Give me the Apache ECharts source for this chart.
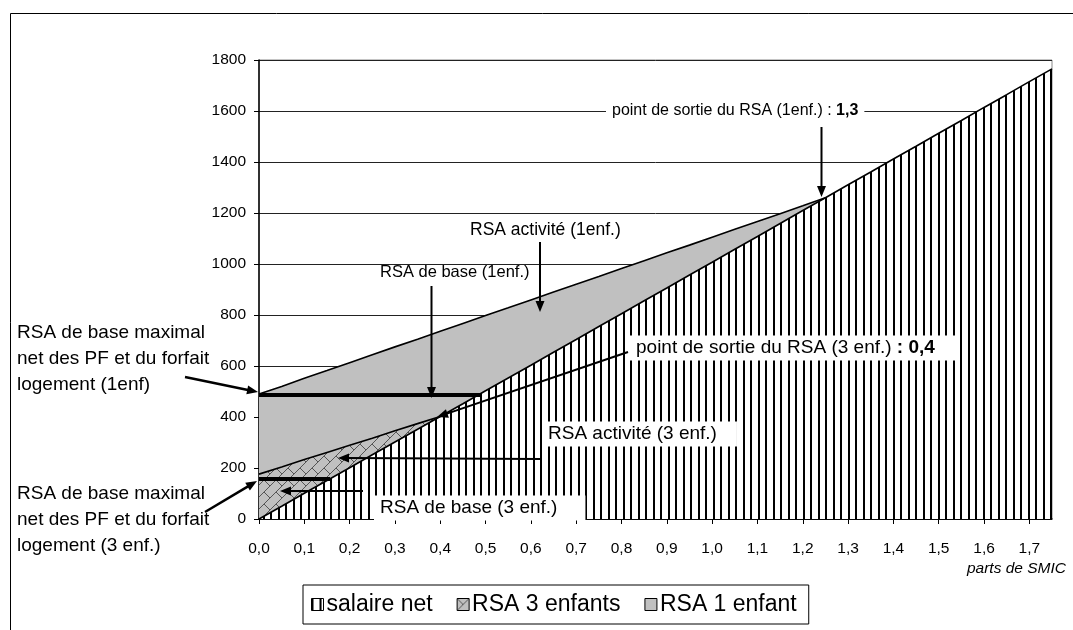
<!DOCTYPE html>
<html><head><meta charset="utf-8">
<script src="https://cdn.jsdelivr.net/npm/echarts@6/dist/echarts.min.js"></script>
<style>html,body{margin:0;padding:0;background:#fff}#c{width:1073px;height:630px}</style>
</head><body><div id="c"></div>
<script>
// ---- data ----
const parts = [0,0.05,0.1,0.15,0.2,0.25,0.3,0.35,0.4,0.45,0.5,0.55,0.6,0.65,0.7,0.75,0.8,0.85,0.9,0.95,1.0,1.05,1.1,1.15,1.2,1.25,1.3,1.35,1.4,1.45,1.5,1.55,1.6,1.65,1.7,1.75];
const salaireNet = [0,50,101,151,201,252,302,352,402,452,503,553,603,654,704,755,805,856,906,957,1007,1058,1108,1159,1210,1260,1311,1361,1412,1462,1513,1563,1614,1664,1715,1765];
const rsa3Enfants = [176,204,233,261,289,317,346,374,402];
const rsa1Enfant = [490,520,552,582,613,644,675,705,736,767,798,828,859,890,921,951,982,1013,1044,1074,1105,1136,1167,1197,1228,1260];
const seriesNames = ['salaire net','RSA 3 enfants','RSA 1 enfant'];
const xTickStep = 0.1, yTickStep = 200;

// ---- fill patterns ----
function stripePattern(){
  const c=document.createElement('canvas'); c.width=15; c.height=4;
  const g=c.getContext('2d'); g.fillStyle='#fff'; g.fillRect(0,0,15,4);
  g.fillStyle='#000'; g.fillRect(0,0,2,4); g.fillRect(8,0,2,4);
  return {image:c, repeat:'repeat'};
}
function crossPattern(){
  const s=12; const c=document.createElement('canvas'); c.width=s; c.height=s;
  const g=c.getContext('2d'); g.fillStyle='#c0c0c0'; g.fillRect(0,0,s,s);
  g.strokeStyle='#555'; g.lineWidth=1;
  g.beginPath(); g.moveTo(0,s); g.lineTo(s,0); g.stroke();
  g.beginPath(); g.moveTo(0,0); g.lineTo(s/2,s/2); g.stroke();
  return {image:c, repeat:'repeat'};
}
const stripes = stripePattern(), cross = crossPattern(), grey = '#c0c0c0';

function pairs(vals){ return vals.map((v,i)=>[parts[i], v]); }

const FONT = '"Liberation Sans", Arial, sans-serif';

function arrow(x1,y1,x2,y2,w){
  const dx=x2-x1, dy=y2-y1, len=Math.hypot(dx,dy), ux=dx/len, uy=dy/len;
  const L=11, W=4.5, nx=-uy, ny=ux;
  const bx=x2-L*ux, by=y2-L*uy;
  return [
    {type:'line', z:100, shape:{x1:x1,y1:y1,x2:bx+ux*2,y2:by+uy*2}, style:{stroke:'#000', lineWidth:w||2}},
    {type:'polygon', z:100, shape:{points:[[x2,y2],[bx+W*nx,by+W*ny],[bx-W*nx,by-W*ny]]}, style:{fill:'#000'}}
  ];
}
function bar(x1,y,x2,w){
  return {type:'line', z:100, shape:{x1:x1,y1:y,x2:x2,y2:y}, style:{stroke:'#000', lineWidth:w}};
}
function label(text,x,y,size,opts){
  return {type:'text', z:101, x:x, y:y, style:Object.assign({
    text:text, font:size+'px '+FONT, fill:'#000', verticalAlign:'middle',
    backgroundColor:'#fff', padding:[3,6,3,6],
    rich:{b:{font:'bold '+size+'px '+FONT, fill:'#000'}}
  }, opts||{})};
}
function plain(text,x,y){
  return {type:'text', z:101, x:x, y:y, style:{
    text:text, font:'19px '+FONT, fill:'#000', lineHeight:26
  }};
}

const chart = echarts.init(document.getElementById('c'), null, {renderer:'canvas'});
const graphics = [].concat(
  [{type:'rect', z:0, shape:{x:10.5,y:13.5,width:1200,height:800}, style:{fill:'none', stroke:'#000', lineWidth:1}}],
  bar(259,395,480,4),
  bar(259,479,330,4),
  arrow(821.5,127,821.5,197,2),
  arrow(540,242,540,312,2),
  arrow(431.5,286,431.5,398,2),
  arrow(185,377,258,392,2.5),
  arrow(628,352,437,417,2),
  arrow(540,459,338,458,2),
  arrow(363,491,280,491,2),
  arrow(205,512,257,481,2.5),
  [
    label('point de sortie du RSA (1enf.) : {b|1,3}', 606, 111, 16),
    label('RSA activité (1enf.)', 464, 230, 17.5, {backgroundColor:'transparent'}),
    label('RSA de base (1enf.)', 374, 272, 16.5, {backgroundColor:'transparent'}),
    label('point de sortie du RSA (3 enf.) {b|: 0,4}', 630, 348, 19, {padding:[3,24,3,6]}),
    label('RSA activité (3 enf.)', 542, 434, 19, {padding:[3,20,3,6]}),
    label('RSA de base (3 enf.)', 374, 508, 19, {padding:[3,28,3,6]}),
    plain('RSA de base maximal\nnet des PF et du forfait\nlogement (1enf)', 17, 320),
    plain('RSA de base maximal\nnet des PF et du forfait\nlogement (3 enf.)', 17, 481),
    {type:'text', z:101, x:1066, y:569, style:{text:'parts de SMIC', font:'italic 15.5px '+FONT, fill:'#000', align:'right', verticalAlign:'middle'}}
  ]
);

chart.setOption({
  animation:false,
  backgroundColor:'#fff',
  grid:{left:259, right:21, top:60, bottom:111, show:true, borderColor:'#888', borderWidth:1},
  xAxis:{type:'value', min:0, max:1.75, interval:xTickStep,
    axisLine:{lineStyle:{color:'#000', width:1.5}},
    axisTick:{show:true, length:5, lineStyle:{color:'#000'}},
    splitLine:{show:false},
    axisLabel:{color:'#000', fontSize:15.5, fontFamily:FONT, margin:22, showMaxLabel:false,
      formatter:v=> v>1.71 ? '' : v.toFixed(1).replace('.',',')}
  },
  yAxis:{type:'value', min:0, max:1800, interval:yTickStep,
    axisLine:{show:true, lineStyle:{color:'#000', width:1.5}},
    axisTick:{show:true, length:5, lineStyle:{color:'#000'}},
    splitLine:{show:true, lineStyle:{color:'#222', width:1}},
    axisLabel:{color:'#000', fontSize:15.5, fontFamily:FONT, margin:13, formatter:v=>String(v)}
  },
  legend:{
    left:303, top:585, orient:'horizontal',
    borderColor:'#000', borderWidth:1, padding:[8,12,8,8],
    itemWidth:12, itemHeight:12, itemGap:24,
    textStyle:{fontSize:23, fontFamily:FONT, color:'#000', padding:[0,0,0,-2]},
    data:[
      {name:seriesNames[0], icon:'rect', itemStyle:{color:stripes, borderColor:'#000', borderWidth:1}},
      {name:seriesNames[1], icon:'rect', itemStyle:{color:cross, borderColor:'#000', borderWidth:1}},
      {name:seriesNames[2], icon:'rect', itemStyle:{color:grey, borderColor:'#000', borderWidth:1}}
    ]
  },
  series:[
    {name:seriesNames[2], type:'line', data:pairs(rsa1Enfant), symbol:'none', showSymbol:false,
      lineStyle:{color:'#000', width:1.6}, itemStyle:{color:grey}, areaStyle:{color:grey, opacity:1}},
    {name:seriesNames[1], type:'line', data:pairs(rsa3Enfants), symbol:'none', showSymbol:false,
      lineStyle:{color:'#000', width:1.6}, itemStyle:{color:grey}, areaStyle:{color:cross, opacity:1}},
    {name:seriesNames[0], type:'line', data:pairs(salaireNet), symbol:'none', showSymbol:false,
      lineStyle:{color:'#000', width:1.6}, itemStyle:{color:'#000'}, areaStyle:{color:stripes, opacity:1}}
  ],
  graphic: graphics
});
</script></body></html>
